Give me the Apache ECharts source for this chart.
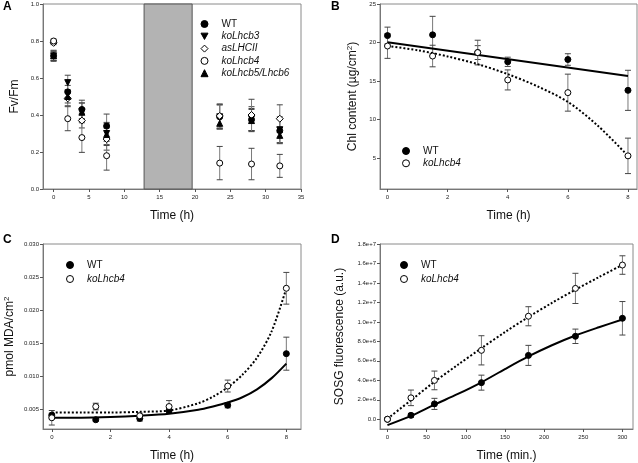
<!DOCTYPE html>
<html><head><meta charset="utf-8">
<script src="https://cdn.jsdelivr.net/npm/echarts@6/dist/echarts.min.js"></script>
<style>html,body{margin:0;padding:0;background:#fff}#c{width:638px;height:463px}</style>
</head><body><div id="c"></div>
<script>
// ---------- Panel A: Fv/Fm ----------
const tA = [0, 2, 4, 7.5, 23.5, 28, 32];
const A_WT = [0.72, 0.525, 0.43, 0.34, 0.39, 0.375, 0.315];
const A_WT_err = [0.025, 0.035, 0.05, 0.065, 0.065, 0.06, 0.065];
const A_koLhcb3 = [0.72, 0.575, 0.42, 0.30, 0.39, 0.38, 0.32];
const A_koLhcb3_err = [0.03, 0.04, 0.045, 0.06, 0.065, 0.065, 0.07];
const A_asLHCII = [0.79, 0.49, 0.37, 0.27, 0.395, 0.40, 0.38];
const A_asLHCII_err = [0.01, 0.04, 0.04, 0.06, 0.065, 0.085, 0.075];
const A_koLhcb4 = [0.80, 0.38, 0.278, 0.18, 0.14, 0.135, 0.125];
const A_koLhcb4_err = [0.01, 0.065, 0.08, 0.078, 0.09, 0.085, 0.062];
const A_koLhcb56 = [0.72, 0.50, 0.415, 0.295, 0.355, 0.37, 0.29];
const A_koLhcb56_err = [0.025, 0.035, 0.05, 0.06, 0.03, 0.06, 0.045];
const A_dark = [12.8, 19.6];
const A_xTicks = [0, 5, 10, 15, 20, 25, 30, 35];
const A_yTicks = [0, 0.2, 0.4, 0.6, 0.8, 1.0];

// ---------- Panel B: Chl content ----------
const tB = [0, 1.5, 3, 4, 6, 8];
const B_WT = [20.9, 21.0, 18.7, 17.5, 17.8, 13.8];
const B_WT_err = [1.1, 2.4, 0.9, 0.6, 0.75, 2.6];
const B_ko = [19.55, 18.25, 18.7, 15.15, 13.5, 5.3];
const B_ko_err = [1.6, 1.4, 1.6, 1.3, 2.4, 2.3];
const B_fitWT_t = [0, 8];
const B_fitWT = [20.03, 15.67];
const B_fitKo_t = [0, 1, 2, 3, 4, 5, 6, 7, 8];
const B_fitKo = [19.55, 19.0, 18.2, 17.2, 15.9, 14.3, 12.3, 9.2, 5.3];
const B_xTicks = [0, 2, 4, 6, 8];
const B_yTicks = [5, 10, 15, 20, 25];

// ---------- Panel C: MDA ----------
const tC = [0, 1.5, 3, 4, 6, 8];
const C_WT = [0.0041, 0.0034, 0.0036, 0.0048, 0.0056, 0.0134];
const C_WT_err = [0.0003, 0.0002, 0.0004, 0.0003, 0.0004, 0.0025];
const C_ko = [0.0037, 0.0054, 0.0040, 0.0054, 0.0085, 0.0233];
const C_ko_err = [0.0011, 0.0005, 0.0004, 0.0009, 0.0009, 0.0024];
const C_fit_t = [0, 1, 2, 3, 4, 5, 5.5, 6, 6.5, 7, 7.5, 8];
const C_fitWT = [0.0037, 0.0037, 0.0038, 0.0040, 0.0043, 0.0049, 0.0054, 0.0060, 0.0068, 0.0080, 0.0097, 0.0119];
const C_fitKo = [0.0045, 0.0045, 0.0045, 0.0046, 0.0048, 0.0059, 0.0069, 0.0083, 0.0102, 0.0128, 0.0168, 0.0233];
const C_xTicks = [0, 2, 4, 6, 8];
const C_yTicks = [0.005, 0.010, 0.015, 0.020, 0.025, 0.030];

// ---------- Panel D: SOSG ----------
const tD = [0, 30, 60, 120, 180, 240, 300];
const D_WT = [0, 0.4e6, 1.58e6, 3.76e6, 6.56e6, 8.52e6, 1.037e7];
const D_WT_err = [0, 0.2e6, 0.57e6, 0.77e6, 1.03e6, 0.74e6, 1.72e6];
const D_ko = [0, 2.2e6, 3.99e6, 7.08e6, 1.058e7, 1.344e7, 1.584e7];
const D_ko_err = [0, 0.8e6, 0.96e6, 1.5e6, 0.98e6, 1.55e6, 0.95e6];
const D_fit_t = [0, 30, 60, 90, 120, 150, 180, 210, 240, 270, 300];
const D_fitWT = [-0.6e6, 0.35e6, 1.5e6, 2.6e6, 3.8e6, 5.15e6, 6.45e6, 7.6e6, 8.6e6, 9.45e6, 1.025e7];
const D_fitKo = [0.05e6, 1.95e6, 3.85e6, 5.6e6, 7.3e6, 8.95e6, 10.5e6, 11.95e6, 13.3e6, 14.6e6, 15.85e6];
const D_xTicks = [0, 50, 100, 150, 200, 250, 300];
const D_yTicks = [0, 2e6, 4e6, 6e6, 8e6, 1e7, 1.2e7, 1.4e7, 1.6e7, 1.8e7];

const FONT = 'Liberation Sans, Arial, sans-serif';
const DOWN_TRI = 'path://M0,0 L10,0 L5,9 Z';

function pts(x, y) { return x.map((t, i) => [t, y[i]]); }
function errS(id, x, y, e, gi) {
  return {
    type: 'custom', name: id, xAxisIndex: gi, yAxisIndex: gi, silent: true, z: 2,
    data: x.map((t, i) => [t, y[i] - e[i], y[i] + e[i]]),
    encode: { x: 0, y: [1, 2] },
    renderItem(p, api) {
      const lo = api.coord([api.value(0), api.value(1)]);
      const hi = api.coord([api.value(0), api.value(2)]);
      const w = 3;
      return { type: 'group', children: [
        { type: 'line', shape: { x1: lo[0], y1: lo[1], x2: hi[0], y2: hi[1] }, style: { stroke: '#7a7a7a', lineWidth: 1 } },
        { type: 'line', shape: { x1: lo[0] - w, y1: lo[1], x2: lo[0] + w, y2: lo[1] }, style: { stroke: '#444', lineWidth: 1 } },
        { type: 'line', shape: { x1: hi[0] - w, y1: hi[1], x2: hi[0] + w, y2: hi[1] }, style: { stroke: '#444', lineWidth: 1 } }
      ]};
    }
  };
}
function sc(name, x, y, gi, symbol, filled, extra) {
  return Object.assign({
    type: 'scatter', name, xAxisIndex: gi, yAxisIndex: gi, symbol, symbolSize: 6, z: 4,
    itemStyle: { color: filled ? '#000' : '#fff', borderColor: '#000', borderWidth: 1, opacity: 1 },
    data: pts(x, y)
  }, extra || {});
}
function fit(id, x, y, gi, dotted) {
  return {
    type: 'line', name: id, xAxisIndex: gi, yAxisIndex: gi, data: pts(x, y), smooth: 0.3,
    symbol: 'none', silent: true, z: 3,
    lineStyle: { color: '#000', width: 2, type: dotted ? [2, 2] : 'solid' }
  };
}
function xAx(gi, min, max, ticks, name, gap, fmt) {
  return {
    type: 'value', gridIndex: gi, min, max, name, nameLocation: 'middle', nameGap: gap,
    nameTextStyle: { fontSize: 12, fontFamily: FONT, color: '#111' },
    axisLine: { show: true, onZero: false, lineStyle: { color: '#777', width: 1 } },
    axisTick: { show: true, customValues: ticks, length: 3, lineStyle: { color: '#555' } },
    axisLabel: { customValues: ticks, fontSize: 6, fontFamily: FONT, color: '#222', margin: 5, formatter: fmt },
    splitLine: { show: false }
  };
}
function yAx(gi, min, max, ticks, name, gap, fmt) {
  const a = xAx(gi, min, max, ticks, name, gap, fmt);
  a.axisLabel.margin = 4;
  return a;
}

const series = [
  // Panel A
  errS('eA1', tA, A_WT, A_WT_err, 0),
  errS('eA2', tA, A_koLhcb3, A_koLhcb3_err, 0),
  errS('eA3', tA, A_asLHCII, A_asLHCII_err, 0),
  errS('eA4', tA, A_koLhcb4, A_koLhcb4_err, 0),
  errS('eA5', tA, A_koLhcb56, A_koLhcb56_err, 0),
  sc('WT', tA, A_WT, 0, 'circle', true, {
    markArea: { silent: true, z: 1,
      itemStyle: { color: '#b3b3b3', borderColor: '#555', borderWidth: 1 },
      data: [[{ xAxis: A_dark[0], yAxis: 0 }, { xAxis: A_dark[1], yAxis: 1 }]] }
  }),
  sc('koLhcb3', tA, A_koLhcb3, 0, DOWN_TRI, true),
  sc('asLHCII', tA, A_asLHCII, 0, 'diamond', false, { symbolSize: 7 }),
  sc('koLhcb4', tA, A_koLhcb4, 0, 'circle', false),
  sc('koLhcb5/Lhcb6', tA, A_koLhcb56, 0, 'triangle', true),
  // Panel B
  fit('fB1', B_fitWT_t, B_fitWT, 1, false),
  fit('fB2', B_fitKo_t, B_fitKo, 1, true),
  errS('eB1', tB, B_WT, B_WT_err, 1),
  errS('eB2', tB, B_ko, B_ko_err, 1),
  sc('WT', tB, B_WT, 1, 'circle', true),
  sc('koLhcb4', tB, B_ko, 1, 'circle', false),
  // Panel C
  fit('fC1', C_fit_t, C_fitWT, 2, false),
  fit('fC2', C_fit_t, C_fitKo, 2, true),
  errS('eC1', tC, C_WT, C_WT_err, 2),
  errS('eC2', tC, C_ko, C_ko_err, 2),
  sc('WT', tC, C_WT, 2, 'circle', true),
  sc('koLhcb4', tC, C_ko, 2, 'circle', false),
  // Panel D
  fit('fD1', D_fit_t, D_fitWT, 3, false),
  fit('fD2', D_fit_t, D_fitKo, 3, true),
  errS('eD1', tD, D_WT, D_WT_err, 3),
  errS('eD2', tD, D_ko, D_ko_err, 3),
  sc('WT', tD, D_WT, 3, 'circle', true),
  sc('koLhcb4', tD, D_ko, 3, 'circle', false)
];

const gridStyle = { show: true, borderColor: '#8a8a8a', borderWidth: 1, backgroundColor: 'transparent' };
const legendBase = {
  orient: 'vertical', itemWidth: 7, itemHeight: 7, itemGap: 2.3, selectedMode: false,
  itemStyle: { borderWidth: 1 },
  textStyle: { fontSize: 10, fontFamily: FONT, color: '#111', padding: [0, 0, 0, 8.5], lineHeight: 10 }
};
const it = { fontStyle: 'italic' };

const option = {
  animation: false,
  backgroundColor: '#fff',
  grid: [
    Object.assign({ left: 43, top: 4, width: 258, height: 185 }, gridStyle),
    Object.assign({ left: 380, top: 4, width: 257, height: 185 }, gridStyle),
    Object.assign({ left: 43, top: 244, width: 258, height: 185 }, gridStyle),
    Object.assign({ left: 380, top: 244, width: 253, height: 185 }, gridStyle)
  ],
  xAxis: [
    xAx(0, -1.5, 35, A_xTicks, 'Time (h)', 21),
    xAx(1, -0.25, 8.3, B_xTicks, 'Time (h)', 21),
    xAx(2, -0.3, 8.5, C_xTicks, 'Time (h)', 21),
    xAx(3, -9.5, 313.5, D_xTicks, 'Time (min.)', 21)
  ],
  yAxis: [
    yAx(0, 0, 1, A_yTicks, 'Fv/Fm', 22, v => v.toFixed(1)),
    yAx(1, 1, 25, B_yTicks, 'Chl content (µg/cm{sup|2})', 20),
    yAx(2, 0.002, 0.030, C_yTicks, 'pmol MDA/cm{sup|2}', 26, v => v.toFixed(3)),
    yAx(3, -1e6, 1.8e7, D_yTicks, 'SOSG fluorescence (a.u.)', 34, v => v === 0 ? '0.0' : v.toExponential(1))
  ],
  legend: [
    Object.assign({}, legendBase, { left: 195.5, top: 14,
      data: [{ name: 'WT' }, { name: 'koLhcb3', textStyle: it }, { name: 'asLHCII', textStyle: it },
             { name: 'koLhcb4', textStyle: it }, { name: 'koLhcb5/Lhcb6', textStyle: it }] }),
    Object.assign({}, legendBase, { left: 397, top: 141, data: [{ name: 'WT' }, { name: 'koLhcb4', textStyle: it }] }),
    Object.assign({}, legendBase, { left: 61, top: 255, itemGap: 4, data: [{ name: 'WT' }, { name: 'koLhcb4', textStyle: it }] }),
    Object.assign({}, legendBase, { left: 395, top: 255, itemGap: 4, data: [{ name: 'WT' }, { name: 'koLhcb4', textStyle: it }] })
  ],
  graphic: [
    { type: 'text', left: 3, top: 1, style: { text: 'A', font: 'bold 12px ' + FONT, fill: '#000' } },
    { type: 'text', left: 331, top: 1, style: { text: 'B', font: 'bold 12px ' + FONT, fill: '#000' } },
    { type: 'text', left: 3, top: 234, style: { text: 'C', font: 'bold 12px ' + FONT, fill: '#000' } },
    { type: 'text', left: 331, top: 234, style: { text: 'D', font: 'bold 12px ' + FONT, fill: '#000' } }
  ],
  series
};
[1, 2].forEach(i => {
  option.yAxis[i].nameTextStyle.rich = { sup: { fontSize: 8, verticalAlign: 'top', fontFamily: FONT, color: '#111', padding: [0, 0, 6, 0] } };
});
const chart = echarts.init(document.getElementById('c'), null, { renderer: 'canvas' });
chart.setOption(option);
</script></body></html>
